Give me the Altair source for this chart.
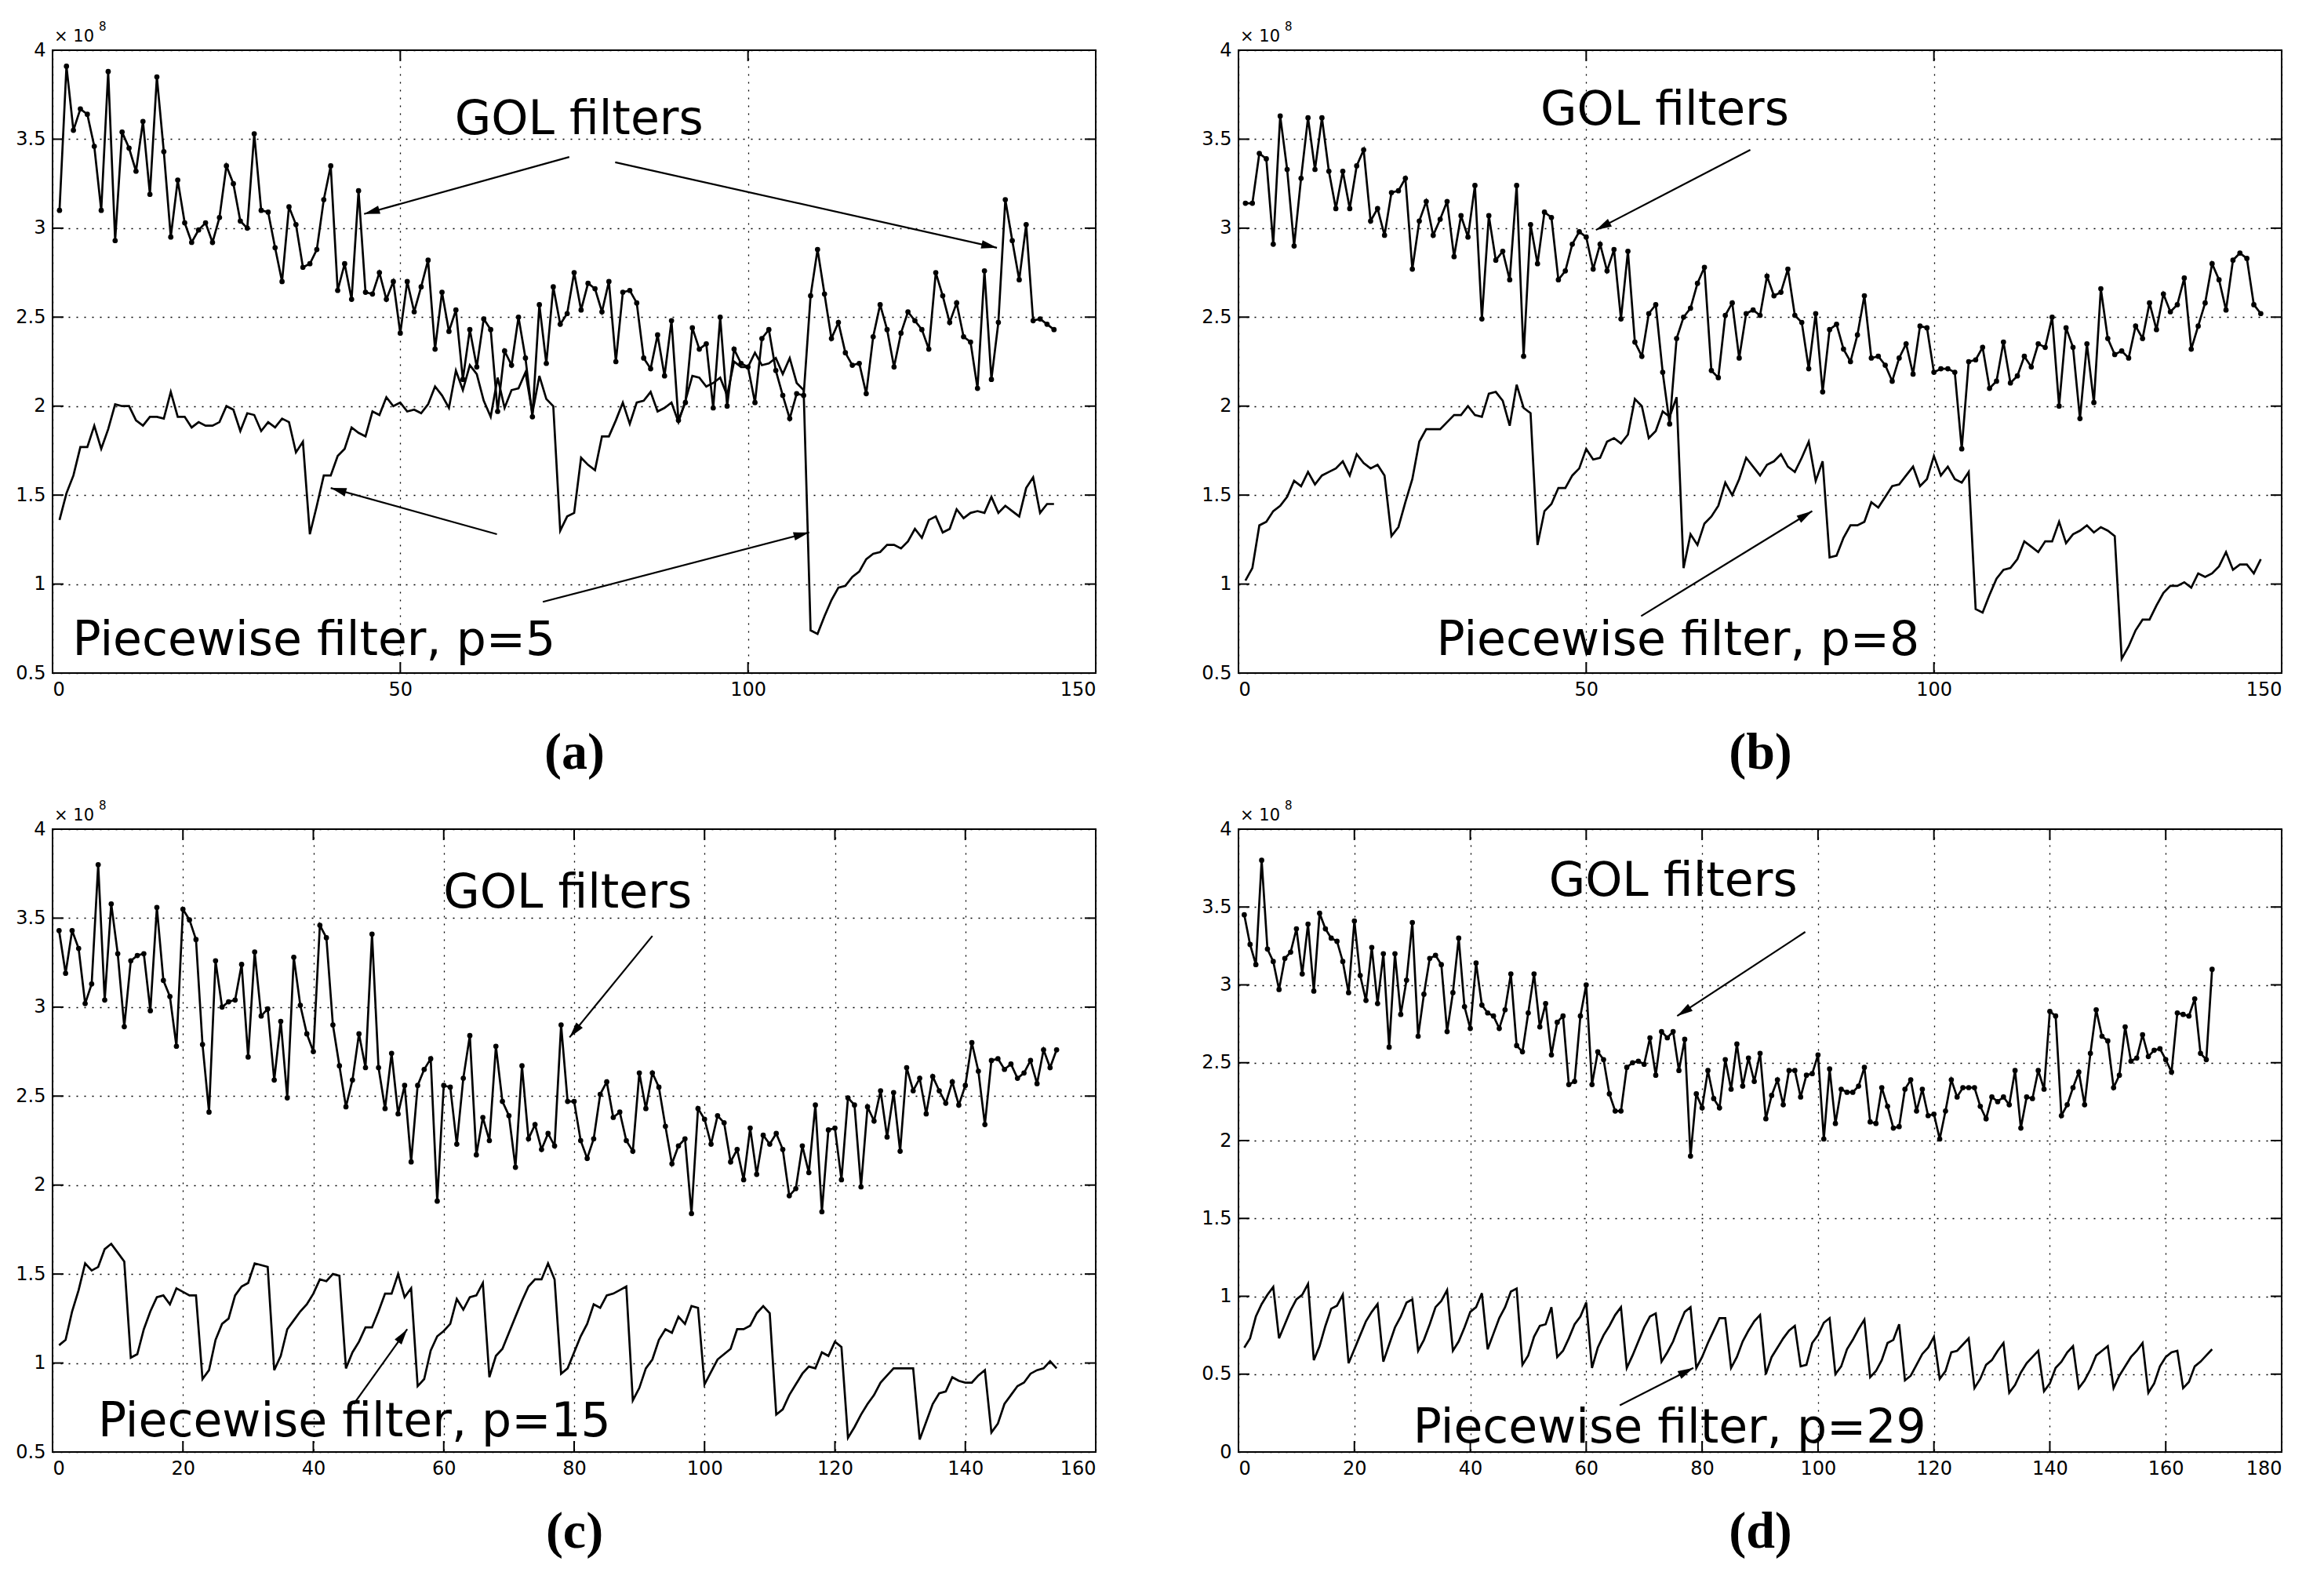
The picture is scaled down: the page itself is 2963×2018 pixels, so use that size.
import math
import altair as alt
import pandas as pd

# ---------------- data (values in units of 1e8) ----------------
gol_a = [3.10, 3.91, 3.55, 3.67, 3.64, 3.46, 3.10, 3.88, 2.93, 3.54,
         3.45, 3.32, 3.60, 3.19, 3.85, 3.43, 2.95, 3.27, 3.03, 2.92,
         2.99, 3.03, 2.92, 3.06, 3.35, 3.25, 3.04, 3.00, 3.53, 3.10,
         3.09, 2.89, 2.70, 3.12, 3.02, 2.78, 2.80, 2.88, 3.16, 3.35,
         2.65, 2.80, 2.60, 3.21, 2.64, 2.63, 2.75, 2.60, 2.70, 2.41,
         2.70, 2.53, 2.67, 2.82, 2.32, 2.64, 2.42, 2.54, 2.15, 2.43,
         2.22, 2.49, 2.43, 1.97, 2.31, 2.23, 2.50, 2.27, 1.94, 2.57,
         2.24, 2.67, 2.46, 2.52, 2.75, 2.54, 2.69, 2.66, 2.53, 2.70,
         2.25, 2.64, 2.65, 2.58, 2.27, 2.21, 2.40, 2.17, 2.48, 1.92,
         2.02, 2.44, 2.32, 2.35, 1.99, 2.50, 2.00, 2.32, 2.24, 2.22,
         2.02, 2.38, 2.43, 2.20, 2.06, 1.93, 2.07, 2.06, 2.62, 2.88,
         2.63, 2.38, 2.47, 2.30, 2.23, 2.24, 2.07, 2.39, 2.57, 2.43,
         2.22, 2.41, 2.53, 2.48, 2.43, 2.32, 2.75, 2.62, 2.47, 2.58,
         2.39, 2.36, 2.10, 2.76, 2.15, 2.47, 3.16, 2.93, 2.71, 3.02,
         2.48, 2.49, 2.46, 2.43]
pw_a = [1.36, 1.51, 1.61, 1.77, 1.77, 1.89, 1.76, 1.87, 2.01, 2.00,
        2.00, 1.92, 1.89, 1.94, 1.94, 1.93, 2.08, 1.94, 1.94, 1.88,
        1.91, 1.89, 1.89, 1.91, 2.00, 1.98, 1.86, 1.96, 1.95, 1.86,
        1.91, 1.88, 1.93, 1.91, 1.74, 1.80, 1.28, 1.44, 1.61, 1.61,
        1.72, 1.76, 1.88, 1.85, 1.83, 1.97, 1.95, 2.05, 2.00, 2.02,
        1.97, 1.98, 1.96, 2.01, 2.11, 2.06, 1.99, 2.20, 2.09, 2.23,
        2.18, 2.03, 1.94, 2.16, 1.99, 2.09, 2.10, 2.19, 1.96, 2.17,
        2.04, 2.00, 1.30, 1.38, 1.40, 1.71, 1.67, 1.64, 1.83, 1.83,
        1.92, 2.02, 1.90, 2.02, 2.03, 2.08, 1.97, 1.99, 2.02, 1.91,
        2.03, 2.17, 2.16, 2.11, 2.13, 2.16, 2.06, 2.25, 2.22, 2.22,
        2.30, 2.23, 2.24, 2.27, 2.18, 2.27, 2.13, 2.09, 0.74, 0.72,
        0.82, 0.91, 0.98, 0.99, 1.04, 1.07, 1.14, 1.17, 1.18, 1.22,
        1.22, 1.20, 1.24, 1.31, 1.26, 1.36, 1.38, 1.29, 1.31, 1.42,
        1.37, 1.40, 1.41, 1.40, 1.49, 1.40, 1.44, 1.41, 1.38, 1.54,
        1.60, 1.40, 1.45, 1.45]

gol_b = [3.14, 3.14, 3.42, 3.39, 2.91, 3.63, 3.33, 2.90, 3.28, 3.62,
         3.33, 3.62, 3.32, 3.11, 3.32, 3.11, 3.35, 3.44, 3.04, 3.11,
         2.96, 3.20, 3.21, 3.28, 2.77, 3.04, 3.15, 2.96, 3.05, 3.15,
         2.84, 3.07, 2.95, 3.24, 2.49, 3.07, 2.82, 2.87, 2.71, 3.24,
         2.28, 3.02, 2.80, 3.09, 3.06, 2.71, 2.76, 2.91, 2.98, 2.95,
         2.77, 2.91, 2.76, 2.88, 2.49, 2.87, 2.36, 2.28, 2.52, 2.57,
         2.19, 1.90, 2.38, 2.50, 2.55, 2.69, 2.78, 2.20, 2.16, 2.51,
         2.58, 2.27, 2.52, 2.54, 2.51, 2.73, 2.62, 2.64, 2.77, 2.51,
         2.47, 2.21, 2.52, 2.08, 2.43, 2.46, 2.32, 2.25, 2.40, 2.62,
         2.27, 2.28, 2.23, 2.14, 2.27, 2.35, 2.18, 2.45, 2.44, 2.19,
         2.21, 2.21, 2.19, 1.76, 2.25, 2.26, 2.33, 2.10, 2.14, 2.36,
         2.13, 2.17, 2.28, 2.22, 2.35, 2.33, 2.50, 2.00, 2.44, 2.33,
         1.93, 2.35, 2.02, 2.66, 2.38, 2.29, 2.31, 2.27, 2.45, 2.38,
         2.58, 2.43, 2.63, 2.53, 2.57, 2.72, 2.32, 2.45, 2.58, 2.80,
         2.71, 2.54, 2.82, 2.86, 2.83, 2.57, 2.52]
pw_b = [1.02, 1.09, 1.33, 1.35, 1.41, 1.44, 1.49, 1.58, 1.55, 1.63,
        1.56, 1.61, 1.63, 1.65, 1.69, 1.61, 1.73, 1.68, 1.65, 1.67,
        1.61, 1.27, 1.32, 1.46, 1.59, 1.80, 1.87, 1.87, 1.87, 1.91,
        1.95, 1.95, 2.00, 1.95, 1.94, 2.07, 2.08, 2.03, 1.89, 2.12,
        1.99, 1.96, 1.22, 1.41, 1.45, 1.54, 1.54, 1.61, 1.65, 1.76,
        1.70, 1.71, 1.80, 1.82, 1.79, 1.84, 2.04, 2.00, 1.82, 1.86,
        1.97, 1.94, 2.05, 1.09, 1.28, 1.22, 1.34, 1.38, 1.44, 1.57,
        1.50, 1.59, 1.71, 1.66, 1.61, 1.67, 1.69, 1.73, 1.66, 1.63,
        1.71, 1.80, 1.58, 1.69, 1.15, 1.16, 1.26, 1.33, 1.33, 1.35,
        1.46, 1.43, 1.49, 1.55, 1.56, 1.61, 1.66, 1.55, 1.59, 1.72,
        1.61, 1.66, 1.59, 1.57, 1.63, 0.86, 0.84, 0.94, 1.03, 1.08,
        1.09, 1.14, 1.24, 1.21, 1.18, 1.24, 1.24, 1.35, 1.23, 1.28,
        1.30, 1.33, 1.29, 1.32, 1.30, 1.27, 0.58, 0.65, 0.74, 0.80,
        0.80, 0.88, 0.95, 0.99, 0.99, 1.01, 0.98, 1.06, 1.04, 1.06,
        1.10, 1.18, 1.08, 1.11, 1.11, 1.06, 1.14]

gol_c = [3.43, 3.19, 3.43, 3.33, 3.02, 3.13, 3.80, 3.04, 3.58, 3.30,
         2.89, 3.26, 3.29, 3.30, 2.98, 3.56, 3.15, 3.06, 2.78, 3.55,
         3.49, 3.38, 2.79, 2.41, 3.26, 3.00, 3.03, 3.04, 3.24, 2.72,
         3.31, 2.95, 2.99, 2.59, 2.92, 2.49, 3.28, 3.01, 2.85, 2.75,
         3.46, 3.39, 2.90, 2.67, 2.44, 2.59, 2.85, 2.66, 3.41, 2.66,
         2.43, 2.74, 2.40, 2.56, 2.13, 2.56, 2.65, 2.71, 1.91, 2.56,
         2.55, 2.23, 2.60, 2.84, 2.17, 2.38, 2.25, 2.78, 2.47, 2.39,
         2.10, 2.67, 2.26, 2.34, 2.20, 2.29, 2.22, 2.90, 2.47, 2.47,
         2.25, 2.15, 2.26, 2.51, 2.58, 2.38, 2.41, 2.25, 2.19, 2.63,
         2.43, 2.63, 2.55, 2.33, 2.12, 2.22, 2.26, 1.84, 2.43, 2.37,
         2.23, 2.39, 2.35, 2.13, 2.20, 2.03, 2.32, 2.06, 2.28, 2.23,
         2.29, 2.20, 1.94, 1.98, 2.22, 2.07, 2.45, 1.85, 2.31, 2.32,
         2.03, 2.49, 2.45, 1.99, 2.44, 2.36, 2.53, 2.27, 2.52, 2.19,
         2.66, 2.53, 2.60, 2.40, 2.61, 2.53, 2.46, 2.58, 2.45, 2.56,
         2.80, 2.64, 2.34, 2.70, 2.71, 2.65, 2.68, 2.60, 2.63, 2.70,
         2.57, 2.76, 2.66, 2.76]
pw_c = [1.10, 1.13, 1.29, 1.41, 1.56, 1.52, 1.54, 1.64, 1.67, 1.62,
        1.57, 1.03, 1.05, 1.19, 1.29, 1.37, 1.38, 1.33, 1.42, 1.40,
        1.38, 1.38, 0.91, 0.96, 1.13, 1.22, 1.25, 1.38, 1.43, 1.45,
        1.56, 1.55, 1.54, 0.96, 1.04, 1.19, 1.24, 1.29, 1.33, 1.39,
        1.47, 1.46, 1.50, 1.49, 0.97, 1.06, 1.12, 1.20, 1.20, 1.29,
        1.39, 1.39, 1.50, 1.37, 1.42, 0.87, 0.91, 1.07, 1.15, 1.18,
        1.22, 1.36, 1.30, 1.37, 1.38, 1.45, 0.92, 1.04, 1.08, 1.17,
        1.26, 1.35, 1.43, 1.47, 1.47, 1.56, 1.47, 0.94, 0.97, 1.06,
        1.15, 1.22, 1.33, 1.31, 1.38, 1.39, 1.41, 1.43, 0.79, 0.86,
        0.97, 1.02, 1.13, 1.19, 1.17, 1.26, 1.22, 1.32, 1.31, 0.88,
        0.95, 1.02, 1.05, 1.08, 1.19, 1.19, 1.21, 1.28, 1.32, 1.28,
        0.71, 0.74, 0.82, 0.88, 0.94, 0.98, 0.97, 1.06, 1.04, 1.12,
        1.09, 0.58, 0.64, 0.71, 0.77, 0.82, 0.89, 0.93, 0.97, 0.97,
        0.97, 0.97, 0.57, 0.67, 0.77, 0.83, 0.84, 0.92, 0.90, 0.89,
        0.89, 0.93, 0.96, 0.61, 0.66, 0.77, 0.82, 0.87, 0.89, 0.94,
        0.96, 0.97, 1.01, 0.97]

gol_d = [3.45, 3.26, 3.13, 3.80, 3.23, 3.15, 2.97, 3.17, 3.21, 3.36,
         3.07, 3.39, 2.96, 3.46, 3.36, 3.30, 3.28, 3.15, 2.95, 3.41,
         3.06, 2.90, 3.24, 2.88, 3.20, 2.60, 3.20, 2.81, 3.03, 3.40,
         2.67, 2.94, 3.17, 3.19, 3.13, 2.70, 2.95, 3.30, 2.86, 2.72,
         3.14, 2.87, 2.82, 2.80, 2.72, 2.84, 3.07, 2.61, 2.57, 2.82,
         3.07, 2.73, 2.88, 2.55, 2.76, 2.80, 2.36, 2.38, 2.80, 3.00,
         2.36, 2.57, 2.52, 2.30, 2.19, 2.19, 2.47, 2.50, 2.51, 2.49,
         2.66, 2.42, 2.70, 2.66, 2.70, 2.45, 2.65, 1.90, 2.30, 2.21,
         2.45, 2.27, 2.21, 2.52, 2.33, 2.62, 2.35, 2.53, 2.38, 2.56,
         2.14, 2.29, 2.39, 2.23, 2.45, 2.45, 2.28, 2.42, 2.43, 2.55,
         2.01, 2.46, 2.11, 2.33, 2.31, 2.31, 2.35, 2.47, 2.12, 2.11,
         2.34, 2.22, 2.08, 2.09, 2.33, 2.39, 2.19, 2.33, 2.16, 2.17,
         2.01, 2.19, 2.39, 2.28, 2.34, 2.34, 2.34, 2.22, 2.14, 2.28,
         2.25, 2.28, 2.23, 2.45, 2.08, 2.28, 2.27, 2.45, 2.33, 2.83,
         2.80, 2.16, 2.23, 2.34, 2.44, 2.23, 2.56, 2.84, 2.67, 2.64,
         2.34, 2.42, 2.73, 2.51, 2.53, 2.68, 2.54, 2.58, 2.59, 2.52,
         2.44, 2.82, 2.81, 2.80, 2.91, 2.56, 2.52, 3.10]
pw_d = [0.67, 0.73, 0.87, 0.95, 1.01, 1.06, 0.73, 0.82, 0.91, 0.98,
        1.01, 1.08, 0.59, 0.68, 0.81, 0.92, 0.94, 1.01, 0.57, 0.66,
        0.75, 0.84, 0.90, 0.95, 0.58, 0.69, 0.80, 0.87, 0.96, 0.98,
        0.65, 0.72, 0.82, 0.93, 0.97, 1.04, 0.65, 0.71, 0.80, 0.90,
        0.93, 1.02, 0.66, 0.76, 0.86, 0.93, 1.03, 1.05, 0.56, 0.62,
        0.74, 0.81, 0.82, 0.93, 0.61, 0.65, 0.73, 0.82, 0.87, 0.96,
        0.54, 0.67, 0.75, 0.81, 0.88, 0.93, 0.54, 0.62, 0.71, 0.80,
        0.87, 0.89, 0.58, 0.64, 0.71, 0.81, 0.90, 0.93, 0.54, 0.61,
        0.70, 0.78, 0.86, 0.86, 0.54, 0.61, 0.71, 0.78, 0.84, 0.88,
        0.50, 0.61, 0.67, 0.73, 0.78, 0.81, 0.55, 0.56, 0.70, 0.75,
        0.83, 0.86, 0.50, 0.55, 0.66, 0.72, 0.79, 0.85, 0.48, 0.52,
        0.59, 0.70, 0.72, 0.82, 0.46, 0.49, 0.56, 0.63, 0.67, 0.74,
        0.47, 0.52, 0.64, 0.65, 0.69, 0.73, 0.41, 0.47, 0.56, 0.59,
        0.65, 0.70, 0.38, 0.43, 0.51, 0.57, 0.61, 0.65, 0.39, 0.44,
        0.54, 0.58, 0.64, 0.68, 0.41, 0.46, 0.53, 0.62, 0.65, 0.68,
        0.41, 0.49, 0.55, 0.61, 0.65, 0.70, 0.38, 0.44, 0.55, 0.61,
        0.64, 0.65, 0.41, 0.45, 0.55, 0.58, 0.62, 0.66]

# panel labels and annotation texts
panel_labels = ["(a)", "(b)", "(c)", "(d)"]
gol_label = "GOL filters"
pw_labels = ["Piecewise filter, p=5", "Piecewise filter, p=8",
             "Piecewise filter, p=15", "Piecewise filter, p=29"]
# annotation anchors in data units: (x centre, y baseline)
gol_text_pos = [(75.7, 3.53), (61.3, 3.58), (79.0, 3.56), (75.0, 3.57)]
pw_text_pos = [(37.6, 0.60), (63.2, 0.60), (46.3, 0.59), (74.4, 0.06)]
# arrows: (x_from, y_from, x_to, y_to) in data units
arrows_a = [(74.3, 3.40, 44.8, 3.08), (80.9, 3.37, 135.8, 2.89),
            (63.9, 1.28, 40.0, 1.54), (70.5, 0.90, 108.8, 1.29)]
arrows_b = [(73.6, 3.44, 51.4, 2.99), (57.9, 0.82, 82.5, 1.41)]
arrows_c = [(92.0, 3.40, 79.3, 2.83), (46.2, 0.77, 54.4, 1.19)]
arrows_d = [(97.8, 3.34, 75.7, 2.80), (65.8, 0.30, 78.5, 0.54)]

x_max = [150, 150, 160, 180]
x_step = [50, 50, 20, 20]
y_min = [0.5, 0.5, 0.5, 0.0]

# ---------------- styling ----------------
W, H = 1330, 794
TICK = 14
LW = 2.7
ARROW_PATH = "M0,0L-0.27,1L0.27,1Z"


def make_panel(gol, pw, xmax, xstep, ymin, label, pw_label, gpos, ppos, arrows):
    df = pd.DataFrame({"x": list(range(1, len(gol) + 1)), "gol": gol, "pw": pw})
    xs = alt.Scale(domain=[0, xmax], nice=False, zero=False)
    ys = alt.Scale(domain=[ymin, 4], nice=False, zero=False)
    xticks = list(range(0, xmax + 1, xstep))
    yticks = [ymin + 0.5 * i for i in range(int(round((4 - ymin) / 0.5)) + 1)]

    xaxis = alt.Axis(values=xticks, title=label, grid=True, format="~r")
    yaxis = alt.Axis(values=yticks, title=None, grid=True, format="~r")

    def X(f):
        return alt.X(f, scale=xs, axis=xaxis)

    def Y(f):
        return alt.Y(f, scale=ys, axis=yaxis)

    base = alt.Chart(df)
    gol_layer = base.mark_line(
        color="black", strokeWidth=LW,
        point=alt.OverlayMarkDef(filled=True, size=45, color="black", opacity=1),
    ).encode(x=X("x:Q"), y=Y("gol:Q"))
    pw_layer = base.mark_line(color="black", strokeWidth=LW).encode(
        x=X("x:Q"), y=Y("pw:Q"))

    tdf = pd.DataFrame({
        "x": [gpos[0], ppos[0]], "y": [gpos[1], ppos[1]],
        "t": [gol_label, pw_label],
    })
    text_layer = alt.Chart(tdf).mark_text(
        font="DejaVu Sans", fontSize=60, align="center", baseline="alphabetic",
        color="black",
    ).encode(x=X("x:Q"), y=Y("y:Q"), text="t:N")

    rows = []
    for (x1, y1, x2, y2) in arrows:
        dxp = (x2 - x1) / xmax * W
        dyp = -(y2 - y1) / (4 - ymin) * H
        ang = math.degrees(math.atan2(dxp, -dyp)) % 360
        rows.append({"x1": x1, "y1": y1, "x2": x2, "y2": y2, "ang": ang})
    adf = pd.DataFrame(rows)
    arrow_lines = alt.Chart(adf).mark_rule(color="black", strokeWidth=2.2).encode(
        x=X("x1:Q"), y=Y("y1:Q"), x2="x2:Q", y2="y2:Q")
    arrow_heads = alt.Chart(adf).mark_point(
        shape=ARROW_PATH, filled=True, size=1600, color="black", opacity=1,
        strokeWidth=0,
    ).encode(x=X("x2:Q"), y=Y("y2:Q"), angle=alt.Angle("ang:Q", scale=None))

    xt = pd.DataFrame({"v": xticks})
    yt = pd.DataFrame({"v": yticks})
    tick_b = alt.Chart(xt).mark_rule(color="black", strokeWidth=2).encode(
        x=X("v:Q"), y=alt.value(H), y2=alt.value(H - TICK))
    tick_t = alt.Chart(xt).mark_rule(color="black", strokeWidth=2).encode(
        x=X("v:Q"), y=alt.value(0), y2=alt.value(TICK))
    tick_l = alt.Chart(yt).mark_rule(color="black", strokeWidth=2).encode(
        y=Y("v:Q"), x=alt.value(0), x2=alt.value(TICK))
    tick_r = alt.Chart(yt).mark_rule(color="black", strokeWidth=2).encode(
        y=Y("v:Q"), x=alt.value(W - TICK), x2=alt.value(W))

    exp_df = pd.DataFrame({"t": ["\u00d7 10"], "e": ["8"]})
    exp_main = alt.Chart(exp_df).mark_text(
        font="DejaVu Sans", fontSize=21, align="left", baseline="alphabetic",
        color="black").encode(x=alt.value(2), y=alt.value(-11), text="t:N")
    exp_sup = alt.Chart(exp_df).mark_text(
        font="DejaVu Sans", fontSize=15, align="left", baseline="alphabetic",
        color="black").encode(x=alt.value(59), y=alt.value(-25), text="e:N")

    return alt.layer(
        gol_layer, pw_layer, arrow_lines, arrow_heads, text_layer,
        tick_b, tick_t, tick_l, tick_r, exp_main, exp_sup,
    ).properties(width=W, height=H)


gols = [gol_a, gol_b, gol_c, gol_d]
pws = [pw_a, pw_b, pw_c, pw_d]
arrs = [arrows_a, arrows_b, arrows_c, arrows_d]
panels = [
    make_panel(gols[i], pws[i], x_max[i], x_step[i], y_min[i], panel_labels[i],
               pw_labels[i], gol_text_pos[i], pw_text_pos[i], arrs[i])
    for i in range(4)
]

chart = alt.vconcat(
    alt.hconcat(panels[0], panels[1], spacing=131),
    alt.hconcat(panels[2], panels[3], spacing=131),
    spacing=26,
).properties(
    padding={"left": 10, "top": 18, "right": 5, "bottom": 5},
    background="white",
).configure_view(
    stroke="black", strokeWidth=2,
).configure_axis(
    labelFont="DejaVu Sans", labelFontSize=24, labelColor="black",
    labelPadding=9, ticks=False, domain=False,
    grid=True, gridColor="black", gridDash=[2, 8], gridWidth=1.3, gridOpacity=1,
    titleFont="Liberation Serif", titleFontWeight="bold", titleFontSize=66,
    titleColor="black", titlePadding=36,
)

chart.save("out.html", embed_options={"renderer": "svg", "actions": False})
